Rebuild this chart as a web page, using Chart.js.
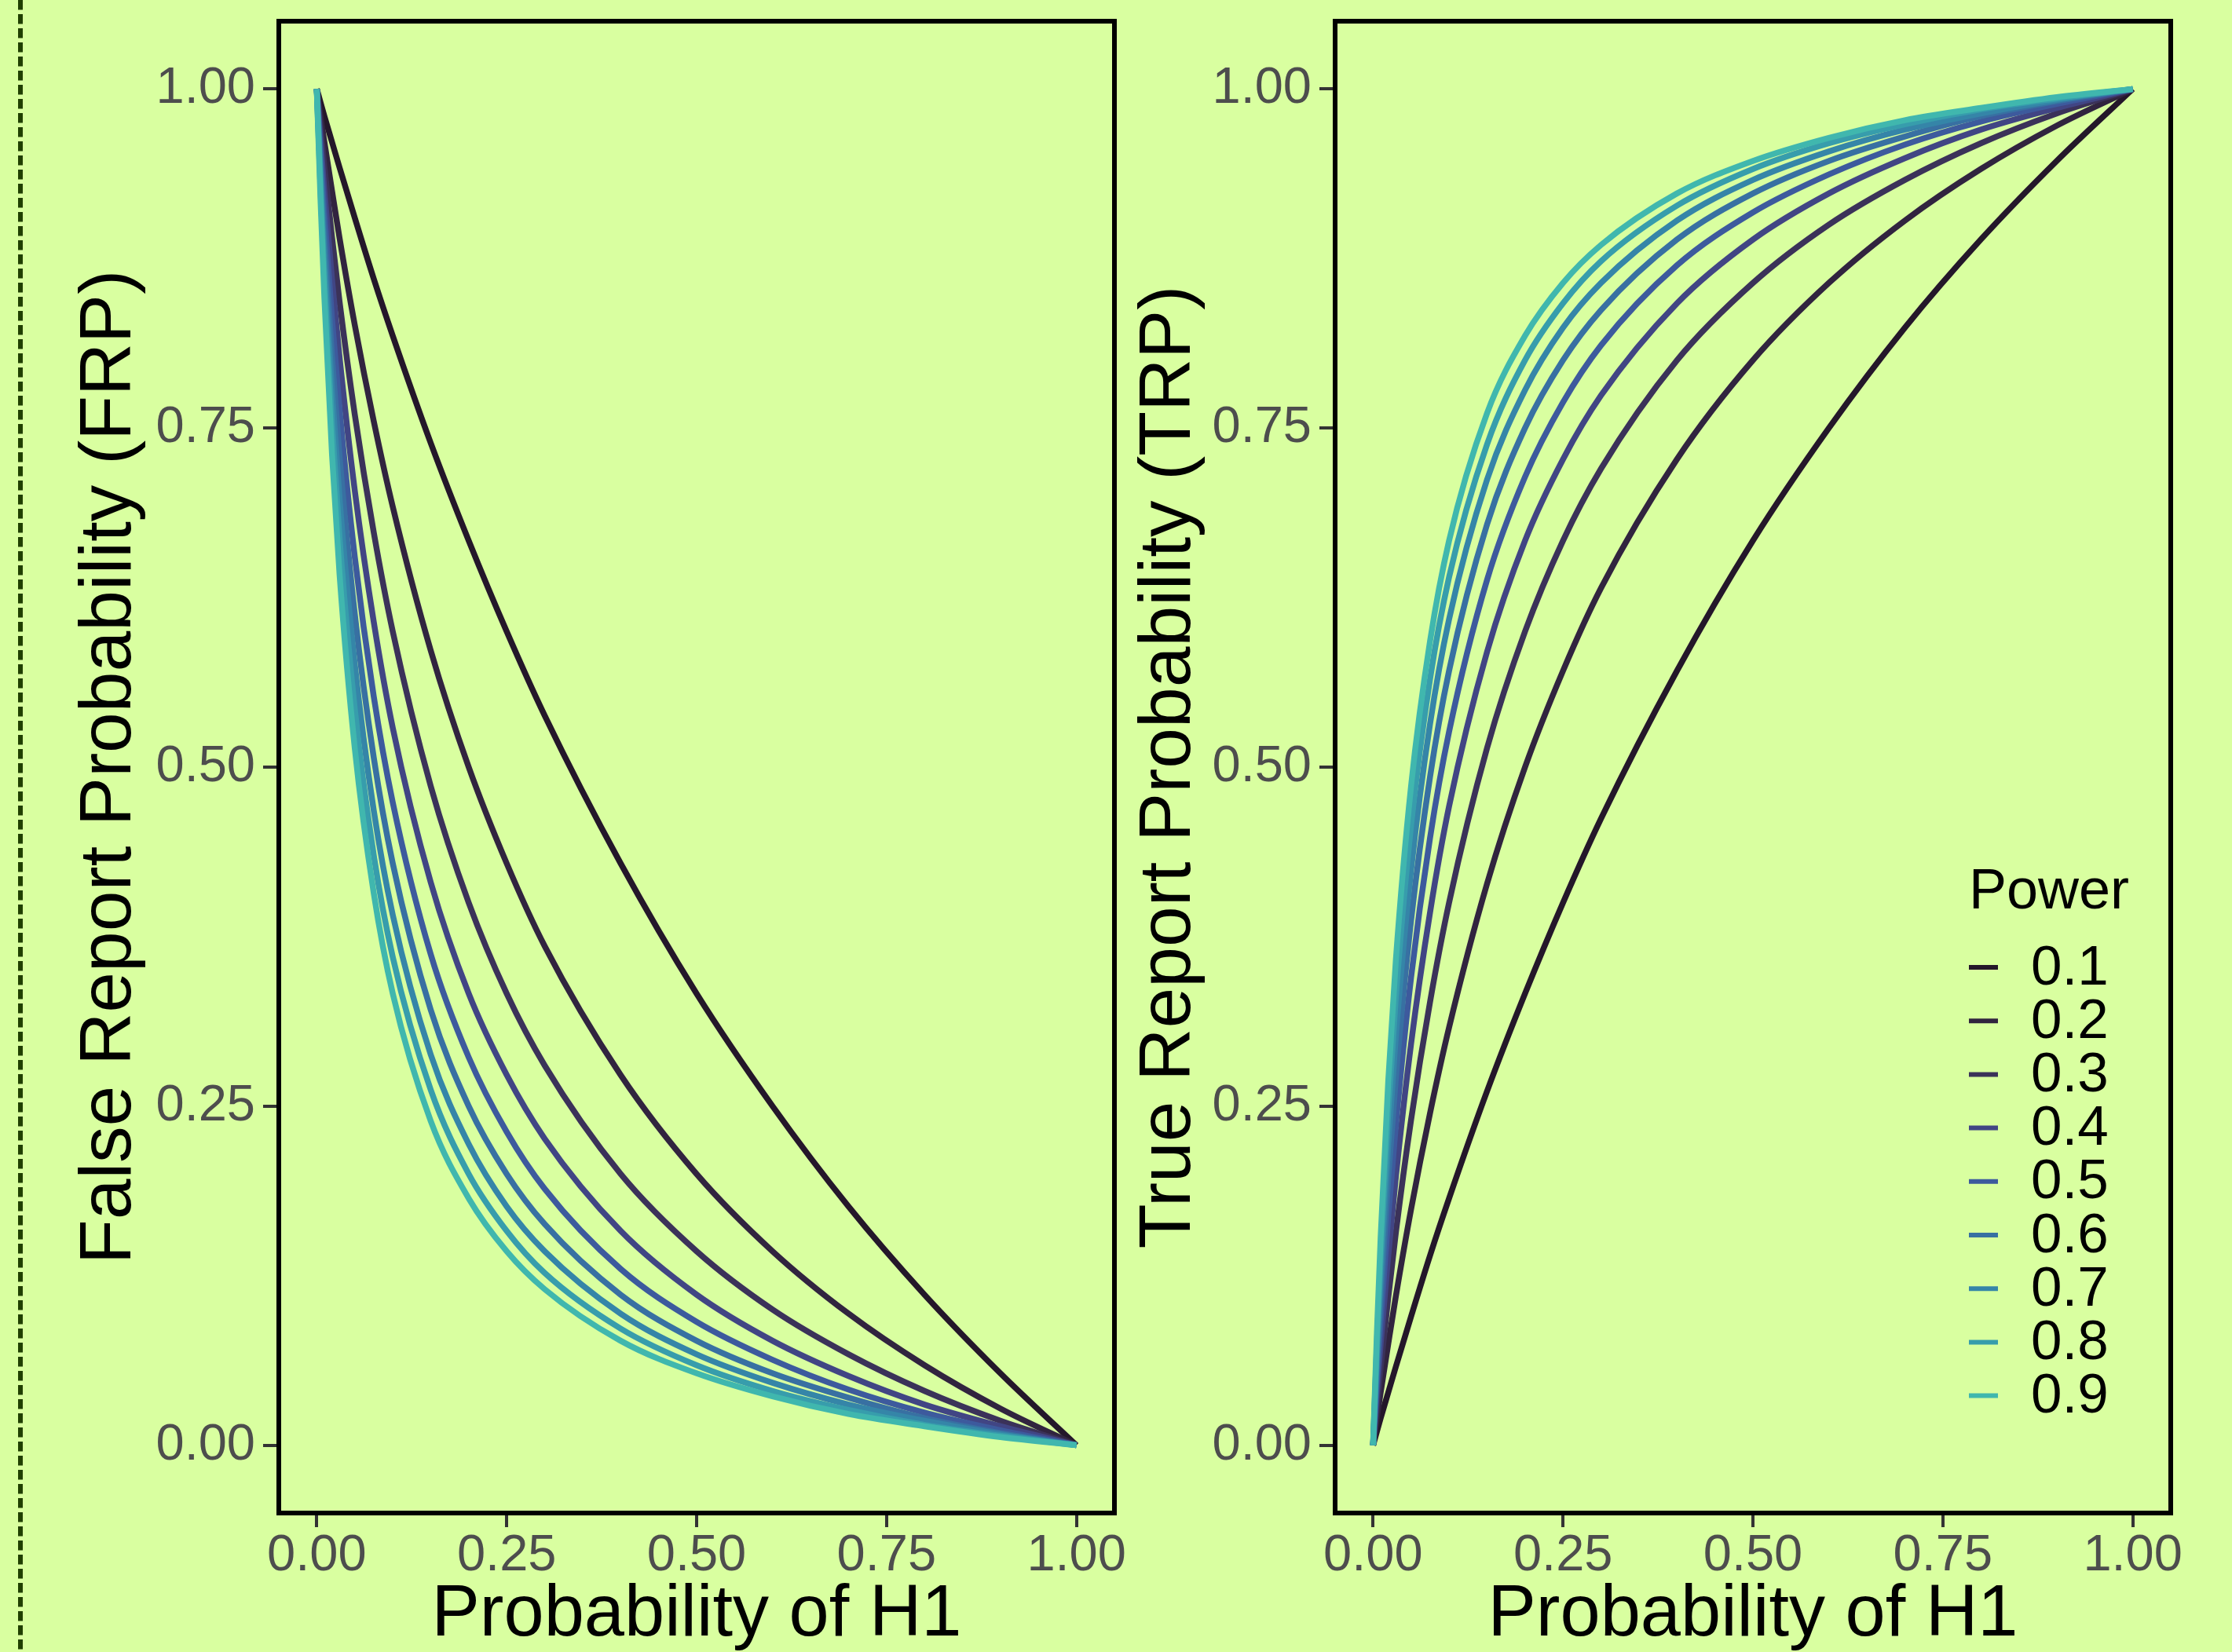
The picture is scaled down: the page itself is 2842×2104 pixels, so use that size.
<!DOCTYPE html>
<html>
<head>
<meta charset="utf-8">
<script src="https://cdn.jsdelivr.net/npm/chart.js@4.4.1/dist/chart.umd.min.js"></script>
<style>
  html, body { margin: 0; padding: 0; background: #d9ffa0; overflow: hidden; }
  body { width: 2842px; height: 2104px; position: relative; }
  canvas { position: absolute; top: 0; }
  #frp { left: 0; width: 1440px; height: 2104px; }
  #trp { left: 1420px; width: 1422px; height: 2104px; }
</style>
</head>
<body>
<canvas id="frp" width="1440" height="2104"></canvas>
<canvas id="trp" width="1422" height="2104"></canvas>
<script>
// x positions (probability of H1) shared by every curve
const probH1 = [0, 0.005, 0.01, 0.02, 0.03, 0.05, 0.075, 0.1, 0.15, 0.2, 0.25, 0.3, 0.4, 0.5, 0.6, 0.7, 0.8, 0.9, 1];

const powerLabels = ['0.1', '0.2', '0.3', '0.4', '0.5', '0.6', '0.7', '0.8', '0.9'];
const powerColors = ['#24172a', '#31243f', '#3b3259', '#414584', '#3d5a9d', '#3870a2', '#3585a8', '#379dac', '#40b7ae'];

const tickValues = [0, 0.25, 0.5, 0.75, 1];
const tickLabels = ['0.00', '0.25', '0.50', '0.75', '1.00'];

// left panel: false report probability
const frp01 = [1, 0.990, 0.980, 0.961, 0.942, 0.905, 0.860, 0.818, 0.739, 0.667, 0.600, 0.538, 0.429, 0.333, 0.250, 0.176, 0.111, 0.053, 0];
const frp02 = [1, 0.980, 0.961, 0.925, 0.890, 0.826, 0.755, 0.692, 0.586, 0.500, 0.429, 0.368, 0.273, 0.200, 0.143, 0.097, 0.059, 0.027, 0];
const frp03 = [1, 0.971, 0.943, 0.891, 0.843, 0.760, 0.673, 0.600, 0.486, 0.400, 0.333, 0.280, 0.200, 0.143, 0.100, 0.067, 0.040, 0.018, 0];
const frp04 = [1, 0.961, 0.925, 0.860, 0.802, 0.704, 0.607, 0.529, 0.415, 0.333, 0.273, 0.226, 0.158, 0.111, 0.077, 0.051, 0.030, 0.014, 0];
const frp05 = [1, 0.952, 0.908, 0.831, 0.764, 0.655, 0.552, 0.474, 0.362, 0.286, 0.231, 0.189, 0.130, 0.091, 0.063, 0.041, 0.024, 0.011, 0];
const frp06 = [1, 0.943, 0.892, 0.803, 0.729, 0.613, 0.507, 0.429, 0.321, 0.250, 0.200, 0.163, 0.111, 0.077, 0.053, 0.035, 0.020, 0.009, 0];
const frp07 = [1, 0.934, 0.876, 0.778, 0.698, 0.576, 0.468, 0.391, 0.288, 0.222, 0.176, 0.143, 0.097, 0.067, 0.046, 0.030, 0.018, 0.008, 0];
const frp08 = [1, 0.926, 0.861, 0.754, 0.669, 0.543, 0.435, 0.360, 0.262, 0.200, 0.158, 0.127, 0.086, 0.059, 0.040, 0.026, 0.015, 0.007, 0];
const frp09 = [1, 0.917, 0.846, 0.731, 0.642, 0.514, 0.407, 0.333, 0.239, 0.182, 0.143, 0.115, 0.077, 0.053, 0.036, 0.023, 0.014, 0.006, 0];

// right panel: true report probability
const trp01 = [0, 0.010, 0.020, 0.039, 0.058, 0.095, 0.140, 0.182, 0.261, 0.333, 0.400, 0.462, 0.571, 0.667, 0.750, 0.824, 0.889, 0.947, 1];
const trp02 = [0, 0.020, 0.039, 0.075, 0.110, 0.174, 0.245, 0.308, 0.414, 0.500, 0.571, 0.632, 0.727, 0.800, 0.857, 0.903, 0.941, 0.973, 1];
const trp03 = [0, 0.029, 0.057, 0.109, 0.157, 0.240, 0.327, 0.400, 0.514, 0.600, 0.667, 0.720, 0.800, 0.857, 0.900, 0.933, 0.960, 0.982, 1];
const trp04 = [0, 0.039, 0.075, 0.140, 0.198, 0.296, 0.393, 0.471, 0.585, 0.667, 0.727, 0.774, 0.842, 0.889, 0.923, 0.949, 0.970, 0.986, 1];
const trp05 = [0, 0.048, 0.092, 0.169, 0.236, 0.345, 0.448, 0.526, 0.638, 0.714, 0.769, 0.811, 0.870, 0.909, 0.937, 0.959, 0.976, 0.989, 1];
const trp06 = [0, 0.057, 0.108, 0.197, 0.271, 0.387, 0.493, 0.571, 0.679, 0.750, 0.800, 0.837, 0.889, 0.923, 0.947, 0.965, 0.980, 0.991, 1];
const trp07 = [0, 0.066, 0.124, 0.222, 0.302, 0.424, 0.532, 0.609, 0.712, 0.778, 0.824, 0.857, 0.903, 0.933, 0.954, 0.970, 0.982, 0.992, 1];
const trp08 = [0, 0.074, 0.139, 0.246, 0.331, 0.457, 0.565, 0.640, 0.738, 0.800, 0.842, 0.873, 0.914, 0.941, 0.960, 0.974, 0.985, 0.993, 1];
const trp09 = [0, 0.083, 0.154, 0.269, 0.358, 0.486, 0.593, 0.667, 0.761, 0.818, 0.857, 0.885, 0.923, 0.947, 0.964, 0.977, 0.986, 0.994, 1];

const FONT = '"Liberation Sans", Arial, Helvetica, sans-serif';

function datasets(series) {
  return series.map((ys, i) => ({
    label: powerLabels[i],
    data: probH1.map((p, j) => ({x: p, y: ys[j]})),
    borderColor: powerColors[i],
    borderWidth: 7.5,
    pointRadius: 0,
    cubicInterpolationMode: 'monotone',
    order: series.length - i,   // higher power drawn on top, as in ggplot
  }));
}

function scales(yTitle, yWidth, yTitlePad) {
  let tickFont = {family: FONT, size: 65, lineHeight: 1};
  let titleFont = {family: FONT, size: 92, lineHeight: 1};
  let setTicks = s => { s.ticks = tickValues.map(v => ({value: v})); };
  return {
    x: {
      type: 'linear', min: -0.05, max: 1.05,
      afterBuildTicks: setTicks,
      // fixed height, and no extra room for the end labels
      afterFit: s => { s.height = 177; s.paddingLeft = 0; s.paddingRight = 0; },
      border: {display: false},
      grid: {drawOnChartArea: false, drawTicks: true, tickLength: 18, lineWidth: 4, color: '#333333'},
      ticks: {padding: 5, color: '#4d4d4d', font: tickFont, maxRotation: 0, autoSkip: false,
        callback: (v, i) => tickLabels[i]},
      title: {display: true, text: 'Probability of H1', color: '#000000', font: titleFont, padding: 0},
    },
    y: {
      type: 'linear', min: -0.05, max: 1.05,
      afterBuildTicks: setTicks,
      afterFit: s => { s.width = yWidth; s.paddingTop = 0; s.paddingBottom = 0; },
      border: {display: false},
      grid: {drawOnChartArea: false, drawTicks: true, tickLength: 20, lineWidth: 4, color: '#333333'},
      ticks: {padding: 10, color: '#4d4d4d', font: tickFont, autoSkip: false,
        callback: (v, i) => tickLabels[i]},
      title: {display: true, text: yTitle, color: '#000000', font: {family: FONT, size: 93, lineHeight: 1},
        padding: {top: yTitlePad, bottom: 0}},
    },
  };
}

// black frame round the panel, drawn over the curves
const panelBorder = {
  id: 'panelBorder',
  afterDatasetsDraw(chart) {
    let {ctx, chartArea: a} = chart;
    ctx.save();
    ctx.strokeStyle = '#000000';
    ctx.lineWidth = 6;
    ctx.strokeRect(a.left, a.top, a.right - a.left, a.bottom - a.top);
    ctx.restore();
  },
};

// dashed rule along the left edge of the figure
const edgeRule = {
  id: 'edgeRule',
  beforeDraw(chart) {
    let {ctx} = chart;
    ctx.save();
    ctx.strokeStyle = '#204000';
    ctx.lineWidth = 6;
    ctx.setLineDash([12.5, 5.5]);
    ctx.beginPath();
    ctx.moveTo(26, 0);
    ctx.lineTo(26, chart.height);
    ctx.stroke();
    ctx.restore();
  },
};

// "Power" legend inside the right panel
const powerLegend = {
  id: 'powerLegend',
  afterDraw(chart) {
    let {ctx} = chart;
    let x0 = 1087;
    ctx.save();
    ctx.fillStyle = '#000000';
    ctx.font = `72px ${FONT}`;
    ctx.textBaseline = 'alphabetic';
    ctx.fillText('Power', x0, 1157);
    ctx.font = `71px ${FONT}`;
    ctx.textBaseline = 'middle';
    chart.data.datasets.forEach((ds, i) => {
      let y = 1232 + i * 68.2;
      ctx.strokeStyle = ds.borderColor;
      ctx.lineWidth = 6;
      ctx.beginPath();
      ctx.moveTo(x0, y);
      ctx.lineTo(x0 + 37, y);
      ctx.stroke();
      ctx.fillText(ds.label, x0 + 79, y + 2);
    });
    ctx.restore();
  },
};

function options(yTitle, yWidth, yTitlePad, padRight) {
  return {
    responsive: false,
    animation: false,
    devicePixelRatio: 1,
    layout: {padding: {top: 27, right: padRight, bottom: 0, left: 0}},
    plugins: {legend: {display: false}, tooltip: {enabled: false}},
    scales: scales(yTitle, yWidth, yTitlePad),
  };
}

new Chart(document.getElementById('frp'), {
  type: 'line',
  data: {datasets: datasets([frp01, frp02, frp03, frp04, frp05, frp06, frp07, frp08, frp09])},
  options: options('False Report Probability (FRP)', 355, 94, 21),
  plugins: [edgeRule, panelBorder],
});

new Chart(document.getElementById('trp'), {
  type: 'line',
  data: {datasets: datasets([trp01, trp02, trp03, trp04, trp05, trp06, trp07, trp08, trp09])},
  options: options('True Report Probability (TRP)', 280, 23, 78),
  plugins: [panelBorder, powerLegend],
});
</script>
</body>
</html>
